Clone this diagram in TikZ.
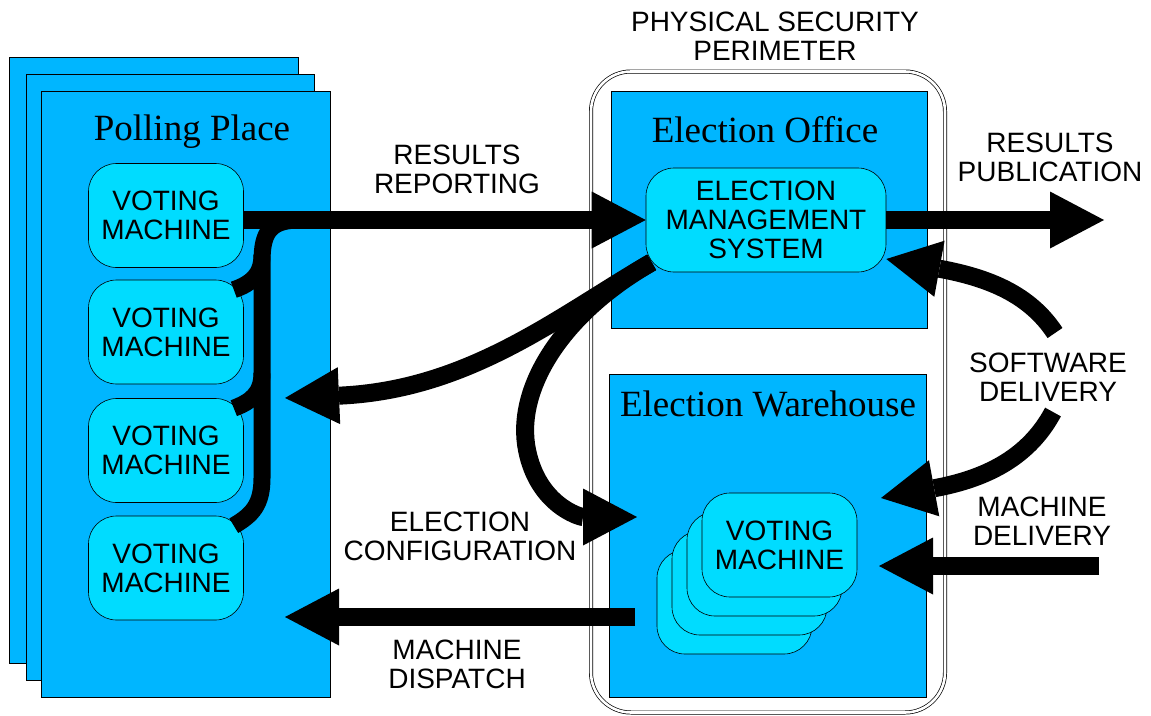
\documentclass[tikz,border=0pt]{standalone}
\usepackage{fontspec}
\setmainfont{Liberation Serif}
\setsansfont{Liberation Sans}
\usetikzlibrary{arrows.meta}

\definecolor{siteblue}{RGB}{0,182,255}
\definecolor{vmcyan}{RGB}{0,220,255}

\newcommand\lblfont{\sffamily\fontsize{28}{29}\selectfont}
\newcommand\ttlfont{\rmfamily\fontsize{37}{40}\selectfont}

\tikzset{
  site/.style={draw, line width=0.8pt, fill=siteblue, inner sep=0pt},
  vm/.style={draw, line width=0.6pt, fill=vmcyan, rounded corners=28pt, minimum width=155pt, minimum height=104pt, inner sep=0pt, align=center, font=\lblfont},
  flow/.style={line width=18pt, -{Triangle[length=54pt,width=57pt,line width=0pt]}},
  bus/.style={line width=17pt},
  lbl/.style={align=center, font=\lblfont},
  ttl/.style={font=\ttlfont, anchor=base},
}

\begin{document}
\begin{tikzpicture}[x=1pt, y=-1pt]
  \useasboundingbox (0,0) rectangle (1151,715);

  % Left: the polling places, stacked
  \node[site, minimum width=289pt, minimum height=606pt] (ppback) at (153.5,360) {};
  \node[site, minimum width=288pt, minimum height=606pt] (ppmid) at (170,377) {};
  \node[site, minimum width=289pt, minimum height=606pt] (pp) at (185.5,394) {};
  \node[ttl] (pptitle) at (192,140) {Polling Place};

  \node[vm] (vm1) at (166,215.5) {VOTING\\MACHINE};
  \node[vm] (vm2) at (166,332) {VOTING\\MACHINE};
  \node[vm] (vm3) at (166,450.5) {VOTING\\MACHINE};
  \node[vm] (vm4) at (166,568) {VOTING\\MACHINE};

  % Right: the physical security perimeter
  \node[draw, double, double distance=2.6pt, line width=0.7pt, rounded corners=40pt, minimum width=354pt, minimum height=641pt] (perimeter) at (768,392) {};
  \node[lbl] (perimlbl) at (775,36.5) {PHYSICAL SECURITY\\PERIMETER};

  % Election office
  \node[site, minimum width=316pt, minimum height=237pt] (office) at (769,209.5) {};
  \node[ttl] (officetitle) at (765,142) {Election Office};
  \node[vm, minimum width=240pt] (ems) at (766,220) {ELECTION\\MANAGEMENT\\SYSTEM};

  % Election warehouse
  \node[site, minimum width=317pt, minimum height=323pt] (warehouse) at (767.5,535.5) {};
  \node[ttl] (whtitle) at (768,416.5) {Election Warehouse};
  \node[vm] (wvm4) at (734.5,602) {};
  \node[vm] (wvm3) at (749.5,583) {};
  \node[vm] (wvm2) at (764.5,564) {};
  \node[vm] (wvm1) at (779.5,545) {VOTING\\MACHINE};

  % Free ends of the connectors
  \coordinate (tap) at (300,220);
  \coordinate (cfgout) at ([shift={(6,-10)}]ems.south west);
  \coordinate (ppcfg) at (285,398);
  \coordinate (whcfg) at (637,517);
  \coordinate (dispatch) at (635,617);
  \coordinate (ppin) at (285,617);
  \coordinate (pub) at (1104,220);
  \coordinate (swtop) at (1055,333);
  \coordinate (swbot) at (1053,412);
  \coordinate (swtip) at (881,498);
  \coordinate (mdel) at (1099,566);
  \coordinate (mdtip) at (879,566);

  % Results reporting, collected from every machine
  \draw[flow] (vm1.east |- ems.west) -- (ems.west);
  \draw[bus] (tap) .. controls (270,220) and (262,232) .. (262,262) -- (262,478)
    .. controls (262,505) and (252,515) .. ([shift={(-10,10)}]vm4.north east);
  \draw[bus] (262,255) .. controls (262,276) and (250,284) .. ([shift={(-10,10)}]vm2.north east);
  \draw[bus] (262,373) .. controls (262,394) and (250,402) .. ([shift={(-10,10)}]vm3.north east);

  % Election configuration
  \draw[flow] (cfgout) .. controls (560,315) and (470,390) .. (ppcfg);
  \draw[flow] (cfgout) .. controls (560,315) and (515,390) .. (527,450)
    .. controls (538,505) and (580,517) .. (whcfg);

  % Machine dispatch and delivery
  \draw[flow] (dispatch) -- (ppin);
  \draw[flow] (mdel) -- (mdtip);

  % Results publication
  \draw[flow] (ems.east) -- (pub);

  % Software delivery
  \draw[flow] (swtop) .. controls (1030,295) and (990,278) .. ([yshift=-39pt]ems.east);
  \draw[flow] (swbot) .. controls (1030,455) and (990,478) .. (swtip);

  % Labels
  \node[lbl] (replbl) at (457,169.5) {RESULTS\\REPORTING};
  \node[lbl] (publbl) at (1050,157) {RESULTS\\PUBLICATION};
  \node[lbl] (swlbl) at (1048,377) {SOFTWARE\\DELIVERY};
  \node[lbl] (mdlbl) at (1042,521) {MACHINE\\DELIVERY};
  \node[lbl] (cfglbl) at (460,536.5) {ELECTION\\CONFIGURATION};
  \node[lbl] (displbl) at (457,664.5) {MACHINE\\DISPATCH};
\end{tikzpicture}
\end{document}
